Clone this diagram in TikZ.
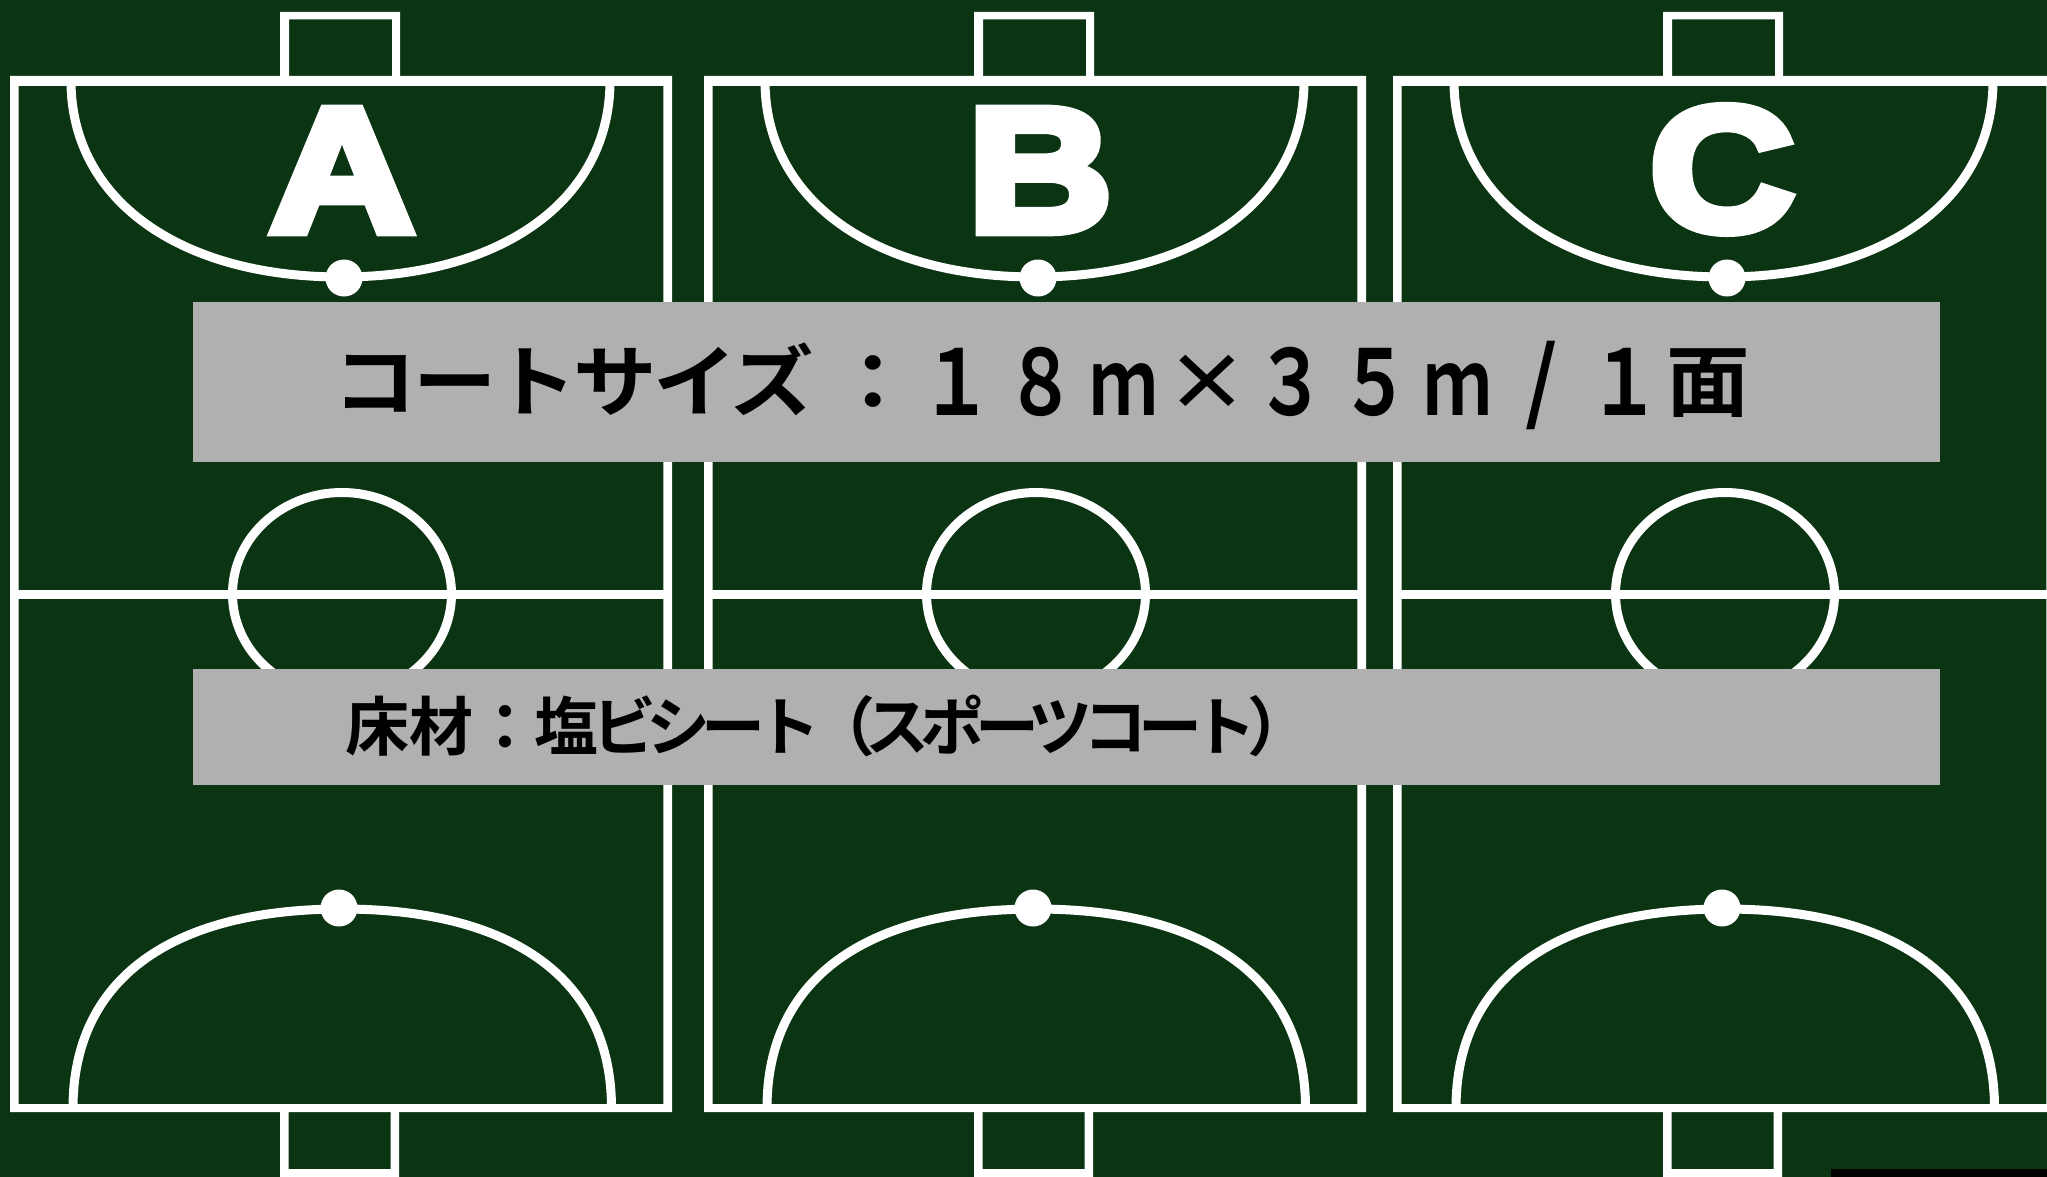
\documentclass[tikz,border=0pt]{standalone}
\usepackage{fontspec}
\newfontfamily\letterfont[FakeBold=6,FakeStretch=1.14]{Liberation Sans Bold}
\newfontfamily\jpfont[FakeStretch=1.07]{Noto Sans CJK JP Bold}
\newfontfamily\jpkana[FakeStretch=1.07,LetterSpace=-4.5]{Noto Sans CJK JP Bold}
\newfontfamily\jpfontb{Noto Sans CJK JP Bold}
\newfontfamily\jptight[LetterSpace=-14.5]{Noto Sans CJK JP Bold}
\definecolor{court}{HTML}{0B3413}
\definecolor{band}{HTML}{B0B0B0}
\newcommand{\fwdigit}[1]{\makebox[83.5pt]{\raisebox{-5pt}{\scalebox{.85}[1.16]{#1}}}}
\newcommand{\fwunit}[1]{\makebox[83.5pt]{\raisebox{-5pt}{\scalebox{.8}[1.16]{#1}}}}
\newcommand{\fwslash}[1]{\makebox[83.5pt]{\raisebox{-3pt}{\scalebox{1}[1.15]{#1}}}}
\tikzset{
  courtline/.style={draw=white,line width=9pt},
  courtfill/.style={fill=white,even odd rule},
  spot/.style={fill=white},
  bandbox/.style={fill=band},
  letter/.style={text=white,anchor=base,inner sep=0pt,font=\letterfont\fontsize{176}{176}\selectfont},
  bandtext/.style={text=black,anchor=base west,inner sep=0pt}
}
\begin{document}
\begin{tikzpicture}[x=1pt,y=-1pt]
\useasboundingbox (0,0) rectangle (2047,1177);
\fill[court] (0,0) rectangle (2047,1177);
\begin{scope}
\clip (0,0) rectangle (2047,1177);
\foreach \dx in {0,694,1383}{
  \begin{scope}[shift={(\dx,0)}]
    % frame
    \fill[courtfill] (10,76) rectangle (672,1112) (18.7,86) rectangle (663.3,1104);
    % goals
    \fill[courtfill] (280,12) rectangle (400,77) (289,19.3) rectangle (392,77);
    \fill[courtfill] (280,1111) rectangle (399,1185) (288.5,1111) rectangle (390.5,1169);
    % goal areas
    \draw[courtline] (71,81) .. controls (71,200) and (180,277) .. (341,277)
                              .. controls (502,277) and (610,200) .. (610,81);
    \draw[courtline] (73,1108) .. controls (73,980) and (170,909) .. (342,909)
                               .. controls (514,909) and (611.5,980) .. (611.5,1108);
    % penalty spots
    \fill[spot] (344,278) circle[radius=18.5];
    \fill[spot] (339,908) circle[radius=18.5];
    % halfway line and centre circle
    \fill[white] (14,589.5) rectangle (668,598.5);
    \draw[courtline] (342,594) ellipse[x radius=109.5,y radius=101.5];
  \end{scope}
}
\fill[black] (1831,1169) rectangle (2047,1177);
\end{scope}
% information bands
\fill[bandbox] (193,302) rectangle (1940,462);
\fill[bandbox] (193,669) rectangle (1940,785);
% court letters
\node[letter] (labelA) at (342,231) {A};
\node[letter] (labelB) at (1040,231) {B};
\node[letter] (labelC) at (1722,230) {C};
% band texts
\node[bandtext] (sizetext) at (333,410) {\fontsize{78}{78}\selectfont {\jpkana コートサイズ}\kern18pt{\jpfont ：\fwdigit{１}\fwdigit{８}\fwunit{ｍ}×\fwdigit{３}\fwdigit{５}\fwunit{ｍ}\fwslash{/}\fwdigit{１}面}};
\node[bandtext] (floortext) at (345,750) {\jpfontb\fontsize{64}{64}\selectfont 床材：\kern-3pt 塩\kern-6pt{\jptight ビシート（スポーツコート）}};
\end{tikzpicture}
\end{document}
